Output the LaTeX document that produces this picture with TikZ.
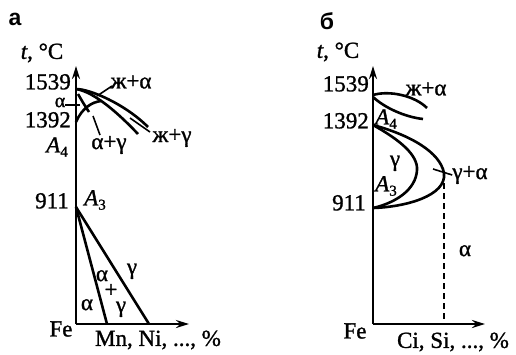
\documentclass[tikz,border=0pt]{standalone}
\usepackage{fontspec}
\setmainfont{Liberation Serif}[FakeBold=1.2]
\newfontfamily\labfont{Liberation Sans}
\usetikzlibrary{arrows.meta}
\newcommand\Asub[1]{\textit{A}\raisebox{-0.4ex}{\fontsize{15}{15}\selectfont #1}}
\begin{document}
\begin{tikzpicture}[x=1pt,y=-1pt,
  font=\fontsize{23}{25}\selectfont,
  axis/.style={line width=2.2pt,-{Stealth[length=13pt,width=8pt]}},
  curve/.style={line width=2.6pt},
  leader/.style={line width=1.6pt},
  lab/.style={inner sep=0pt},
  tight/.style={inner sep=0pt,text height=1.1ex,text depth=0.2ex},
  numlab/.style={inner sep=0pt,text height=1.45ex,text depth=0pt,anchor=east},
  panel/.style={inner sep=0pt,font=\labfont\bfseries\fontsize{23}{25}\selectfont}]
\useasboundingbox (0,0) rectangle (516,354);
% ---------- panel a ----------
\coordinate (aO) at (76,324);
\coordinate (aY) at (76,66);
\coordinate (aX) at (189,324);
\coordinate (a1539) at (76,89);
\coordinate (a1392) at (76,122);
\coordinate (a911) at (76,207);
\coordinate (aP) at (101,101);
\coordinate (aB1) at (107,324);
\coordinate (aB2) at (149,324);
\draw[axis] (aO) -- (aY);
\draw[axis] (aO) -- (aX);
\node[panel] (pa) at (15,19) {а};
\node[lab] (ta) at (42,53) {\textit{t}, °C};
\node[numlab] (l1539a) at (71,86) {1539};
\node[numlab] (l1392a) at (71,124) {1392};
\node[lab] (A4a) at (57,147) {\Asub{4}};
\node[tight,font=\fontsize{20}{20}\selectfont] (ala) at (60,105) {α};
\node[numlab] (l911a) at (69,205) {911};
\node[lab] (A3a) at (95,200) {\Asub{3}};
% top curves
\draw[curve] (a1539) .. controls (90,89) and (125,104) .. (148,127);
\draw[curve] (a1539) .. controls (95,92) and (120,115) .. (138,134);
\draw[curve] (a1392) .. controls (82,108) and (92,102) .. (aP);
\draw[curve] (78,94) .. controls (82,101) and (85,106) .. (89,112);
\coordinate (alL) at (80,105);
\draw[leader] (ala.east) -- (alL);
\node[lab] (zha) at (131,82) {ж+α};
\coordinate (zhaL) at (97,96);
\draw[leader] (112,86) -- (zhaL);
\node[lab] (zhg) at (172,138) {ж+γ};
\coordinate (zhgL) at (130,118);
\draw[leader] (150,132) -- (zhgL);
\node[lab] (agl) at (109,145) {α+γ};
\coordinate (aglL) at (93,116);
\draw[leader] (100,135) -- (aglL);
% lower lines
\draw[curve] (a911) -- (aB1);
\draw[curve] (a911) -- (aB2);
\node[tight] (alpha1) at (87,308) {α};
\node[tight] (alpha2) at (102,279) {α};
\node[tight] (plus) at (111,295) {+};
\node[tight] (gam2) at (121,310) {γ};
\node[tight] (gam1) at (132,272) {γ};
\node[lab] (Fea) at (61,329) {Fe};
\node[lab] (xa) at (158,340) {Mn, Ni, ..., \%};
% ---------- panel b ----------
\coordinate (bO) at (373,324);
\coordinate (bY) at (373,66);
\coordinate (bX) at (485,324);
\coordinate (b1539) at (373,95);
\coordinate (b1392) at (373,125);
\coordinate (b911) at (373,208);
\coordinate (bR) at (444,173);
\coordinate (bRi) at (417,170);
\coordinate (bD) at (444,324);
\draw[axis] (bO) -- (bY);
\draw[axis] (bO) -- (bX);
\node[panel] (pb) at (327,21) {б};
\node[lab] (tb) at (338,52) {\textit{t}, °C};
\node[numlab] (l1539b) at (369,88) {1539};
\node[numlab] (l1392b) at (369,125) {1392};
\node[numlab] (l911b) at (366,207) {911};
\draw[curve] (b1539) .. controls (390,90) and (415,96) .. (427,108);
\draw[curve] (373,97) .. controls (385,108) and (405,117) .. (423,119);
\draw[curve] (b1392) .. controls (410,135) and (440,152) .. (bR) .. controls (447,196) and (405,207) .. (b911);
\draw[curve] (b1392) .. controls (400,140) and (418,155) .. (bRi) .. controls (416,190) and (395,203) .. (b911);
\draw[line width=1.6pt,dash pattern=on 6pt off 4pt] (bR) -- (bD);
\node[lab] (zhab) at (426,89) {ж+α};
\node[lab] (A4b) at (386,119) {\Asub{4}};
\node[tight] (gb) at (395,164) {γ};
\node[lab] (A3b) at (386,186) {\Asub{3}};
\node[lab] (gab) at (470,175) {γ+α};
\coordinate (gabL) at (433,169);
\draw[leader] (gab.west) -- (gabL);
\node[tight] (alb) at (465,254) {α};
\node[lab] (Feb) at (355,331) {Fe};
\node[lab] (xb) at (453,342) {Ci, Si, ..., \%};
\end{tikzpicture}
\end{document}
